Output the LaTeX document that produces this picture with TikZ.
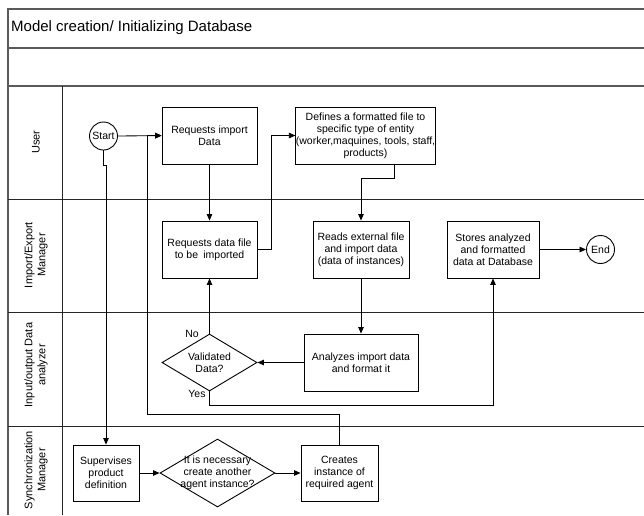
\documentclass[tikz,border=0pt]{standalone}
\usepackage{fontspec}
\setmainfont{Liberation Sans}
\usetikzlibrary{arrows.meta,shapes.geometric}
\definecolor{framegray}{HTML}{5A5A5A}
\tikzset{
  boxfont/.style={font=\fontsize{10.5}{12}\selectfont},
  proc/.style={draw, line width=0.9pt, rectangle, inner sep=0pt, align=center, boxfont},
  term/.style={draw, line width=0.9pt, circle, inner sep=0pt, minimum size=28pt, boxfont},
  decis/.style={draw, line width=0.9pt, diamond, inner sep=0pt},
  dtext/.style={align=center, boxfont, inner sep=0pt},
  arr/.style={line width=0.8pt, -{Triangle[length=6.5pt,width=5.5pt]}},
  lanelabel/.style={rotate=90, align=center, font=\fontsize{11}{13}\selectfont, inner sep=0pt},
  frame/.style={draw=framegray, line width=1.6pt},
  lane/.style={draw=black!85, line width=1pt},
}
\begin{document}
\begin{tikzpicture}[x=1pt, y=-1pt]
\useasboundingbox (0,0) rectangle (644,515);

% pool header and frame
\draw[frame] (644,9) -- (8,9) -- (8,515);
\draw[frame] (8,48) -- (644,48);
\draw[frame] (8,86) -- (644,86);
\node[anchor=west, inner sep=0pt, font=\fontsize{15}{17}\selectfont] (title) at (11,28) {Model creation/ Initializing Database};

% lanes
\draw[lane] (8,199) -- (644,199);
\draw[lane] (8,312) -- (644,312);
\draw[lane] (8,426) -- (644,426);
\draw[lane] (62,86) -- (62,515);

\node[lanelabel] (lUser) at (36,142) {User};
\node[lanelabel] (lImp) at (36,255) {Import/Export\\Manager};
\node[lanelabel] (lIO) at (36,365) {Input/output Data\\analyzer};
\node[lanelabel] (lSync) at (36,470) {Synchronization\\Manager};

% User lane
\node[term] (start) at (103.5,136) {Start};
\node[proc, minimum width=95pt, minimum height=57pt] (req1) at (209.5,135.5) {Requests import\\Data};
\node[proc, minimum width=105pt, minimum height=57pt] (def) at (365.5,135.5) {Defines a formatted file to\\specific type of entity\\(worker,maquines, tools, staff,\\products)};

% Import/Export lane
\node[proc, minimum width=95pt, minimum height=57pt] (req2) at (209.5,249.5) {Requests data file\\to be\enspace imported};
\node[proc, minimum width=96pt, minimum height=57pt] (reads) at (361,249.5) {Reads external file\\and import data\\(data of instances)};
\node[proc, minimum width=92pt, minimum height=57pt] (stores) at (493,249.5) {Stores analyzed\\and formatted\\data at Database};
\node[term] (end) at (600.5,249.5) {End};

% Input/output lane
\node[proc, minimum width=114pt, minimum height=57pt] (ana) at (361,362.5) {Analyzes import data\\and format it};
\node[decis, minimum width=95pt, minimum height=57pt] (val) at (209.5,362.5) {};
\node[dtext] (valtxt) at (val.center) {Validated\\Data?};
\node[boxfont, inner sep=0pt] (no) at (192,334) {No};
\node[boxfont, inner sep=0pt] (yes) at (197,394) {Yes};

% Synchronization lane
\node[proc, minimum width=66pt, minimum height=56pt] (sup) at (106,473) {Supervises\\product\\definition};
\node[decis, minimum width=115pt, minimum height=68pt] (need) at (217.5,473) {};
\node[dtext] (needtxt) at (need.center) {It is necessary\\create another\\agent instance?};
\node[proc, minimum width=77pt, minimum height=56pt] (cre) at (339.5,473) {Creates\\instance of\\required agent};

% connectors
\draw[arr] (start) -- (req1);
\draw[arr] (req1) -- (req2);
\draw[arr] (req2.east) -- ++(14,0) |- (def.west);
\draw[arr] ([xshift=28.5pt]def.south) -- ++(0,14) -| (reads.north);
\draw[arr] (reads) -- (ana);
\draw[arr] (ana) -- (val);
\draw[arr] (val.north) -- (req2.south);
\draw[arr] (val.south) -- ++(0,14) -| (stores.south);
\draw[arr] (stores) -- (end);
\draw[arr] (start.south) -- ++(0,15) -| (sup.north);
\draw[arr] (sup) -- (need);
\draw[arr] (need) -- (cre);
\draw[arr] (cre.north) -- ++(0,-30) -| ([xshift=-14pt]req1.west) -- (req1.west);
\end{tikzpicture}
\end{document}
